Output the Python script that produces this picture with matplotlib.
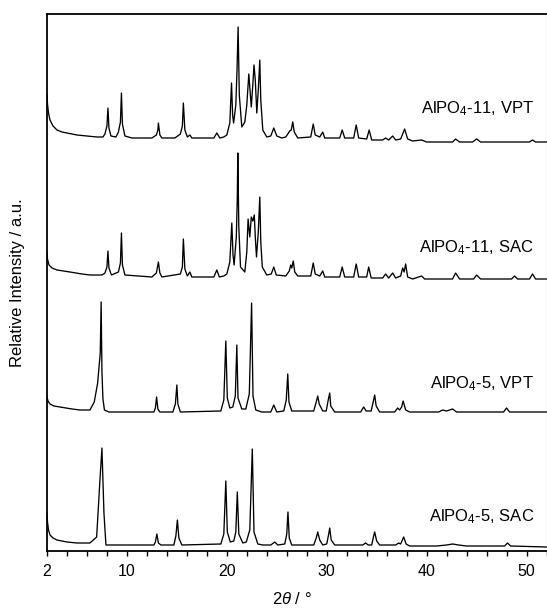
import matplotlib
matplotlib.use("Agg")
import matplotlib.pyplot as plt
import numpy as np

plt.rcParams['font.family'] = ['Liberation Sans', 'DejaVu Sans']
plt.rcParams['mathtext.fontset'] = 'custom'
plt.rcParams['mathtext.rm'] = 'Liberation Sans'
plt.rcParams['mathtext.it'] = 'Liberation Sans:italic'
plt.rcParams['mathtext.bf'] = 'Liberation Sans:bold'

# ---------------- data (2theta in degrees, intensity in a.u.) ----------------
names = ["AlPO$_4$-11, VPT", "AlPO$_4$-11, SAC", "AlPO$_4$-5, VPT", "AlPO$_4$-5, SAC"]

alpo11_vpt = [
    (2.0, 45), (2.05, 36), (2.15, 27), (2.3, 20), (2.6, 14), (3.0, 10), (3.5, 8), (4.0, 7),
    (5.0, 5), (6.0, 4), (7.0, 3), (7.6, 3),
    (7.8, 6), (8.0, 14), (8.1, 32), (8.2, 12), (8.4, 4), (8.9, 3),
    (9.15, 8), (9.35, 18), (9.45, 47), (9.55, 16), (9.8, 4), (10.5, 2), (12.5, 2),
    (12.95, 5), (13.1, 10), (13.15, 17), (13.3, 5), (13.5, 2), (14.8, 2),
    (15.35, 6), (15.55, 14), (15.65, 37), (15.8, 10), (16.05, 3), (16.3, 5), (16.5, 2),
    (18.7, 2), (19.0, 7), (19.3, 2),
    (19.7, 3), (20.0, 5), (20.3, 17), (20.47, 57), (20.58, 25), (20.68, 17), (20.9, 35),
    (21.02, 70), (21.13, 113), (21.25, 45), (21.5, 13), (21.8, 18), (22.0, 35), (22.2, 66),
    (22.45, 33), (22.6, 55), (22.72, 75), (22.85, 60), (23.0, 27), (23.15, 50), (23.3, 80),
    (23.4, 40), (23.6, 10), (24.0, 3),
    (24.4, 4), (24.7, 12), (25.0, 4), (25.5, 2),
    (25.9, 3), (26.3, 9), (26.45, 10), (26.6, 18), (26.75, 8), (27.1, 2),
    (28.4, 3), (28.65, 16), (28.85, 5), (29.3, 3), (29.6, 8), (29.8, 2),
    (31.3, 2), (31.55, 10), (31.8, 2), (32.7, 2), (32.95, 15), (33.2, 2),
    (34.0, 1), (34.25, 10), (34.5, 0), (35.6, 0), (35.9, 2), (36.2, 0), (36.6, 4), (36.9, 0),
    (37.4, 1), (37.6, 6), (37.8, 11), (38.1, 1), (38.6, -1), (39.5, 0), (40.0, -2),
    (42.6, -2), (42.9, 1), (43.3, -2), (44.6, -2), (45.0, 1), (45.4, -2), (50.3, -2),
    (50.6, 0), (50.9, -2), (52.0, -2),
]

alpo11_sac = [
    (2.0, 24), (2.05, 18), (2.2, 12), (2.5, 9), (3.0, 7), (4.3, 5), (5.5, 3), (6.3, 2), (7.5, 2),
    (7.8, 4), (8.0, 10), (8.1, 26), (8.2, 9), (8.45, 2),
    (9.15, 5), (9.35, 14), (9.45, 44), (9.55, 12), (9.8, 2),
    (12.5, 0), (12.95, 4), (13.15, 15), (13.3, 4), (13.5, 0),
    (15.35, 3), (15.55, 10), (15.65, 38), (15.8, 8), (16.05, 1), (16.3, 5), (16.5, 0),
    (18.7, 0), (19.0, 7), (19.25, 0),
    (19.7, 1), (20.0, 3), (20.3, 15), (20.5, 54), (20.62, 22), (20.73, 12), (20.95, 40),
    (21.05, 80), (21.1, 124), (21.2, 50), (21.37, 10), (21.8, 5), (22.0, 25), (22.13, 58),
    (22.3, 40), (22.45, 60), (22.6, 56), (22.75, 62), (22.85, 40), (22.97, 20), (23.15, 45),
    (23.3, 80), (23.4, 35), (23.55, 10), (24.0, 2),
    (24.45, 3), (24.7, 10), (24.95, 2),
    (25.9, 1), (26.25, 6), (26.4, 12), (26.5, 9), (26.65, 16), (26.8, 5), (27.1, 1),
    (28.4, 1), (28.65, 14), (28.85, 3), (29.3, 1), (29.6, 6), (29.8, 0),
    (31.3, 0), (31.55, 10), (31.8, 0), (32.7, 0), (32.95, 13), (33.2, 0),
    (34.0, 0), (34.2, 10), (34.45, -1), (35.6, -1), (35.9, 3), (36.2, -1), (36.6, 4), (36.9, -1),
    (37.4, 1), (37.6, 9), (37.75, 5), (37.9, 13), (38.1, 0), (38.6, -2), (39.5, 1), (39.8, -2),
    (42.6, -2), (42.9, 4), (43.3, -2), (44.7, -2), (45.0, 2), (45.4, -2), (48.5, -2),
    (48.8, 1), (49.1, -2), (50.3, -2), (50.6, 3), (50.9, -2), (52.0, -2),
]

alpo5_vpt = [
    (2.0, 15), (2.1, 11), (2.3, 8), (2.7, 6), (3.3, 5), (4.5, 3), (5.3, 2), (6.3, 2),
    (6.73, 10), (7.07, 29), (7.33, 59), (7.42, 110), (7.5, 40), (7.6, 13), (7.75, 2), (8.2, 0),
    (12.7, 0), (12.85, 4), (12.97, 15), (13.1, 3), (13.3, 0),
    (14.6, 0), (14.85, 8), (15.0, 27), (15.1, 8), (15.35, 0),
    (19.4, 1), (19.7, 12), (19.9, 71), (20.05, 14), (20.3, 4), (20.6, 5), (20.85, 16),
    (21.0, 67), (21.12, 14), (21.5, 3), (21.9, 3), (22.25, 18), (22.48, 109), (22.62, 16),
    (22.9, 2), (23.5, 0),
    (24.4, 0), (24.7, 7), (25.0, 0),
    (25.7, 1), (25.95, 12), (26.1, 38), (26.22, 10), (26.5, 1),
    (28.7, 1), (28.95, 10), (29.1, 16), (29.25, 8), (29.6, 1),
    (29.95, 1), (30.15, 12), (30.3, 19), (30.4, 6), (30.8, 0),
    (33.4, 0), (33.7, 5), (33.95, 1),
    (34.45, 1), (34.65, 10), (34.8, 17), (34.95, 6), (35.3, 0),
    (36.8, 0), (37.1, 4), (37.3, 2), (37.5, 5), (37.65, 11), (37.9, 2), (38.3, 0),
    (41.2, 0), (41.6, 2), (42.0, 1), (42.6, 3), (43.0, 0), (47.7, 0), (48.0, 4), (48.3, 0),
    (52.0, 0),
]

alpo5_sac = [
    (2.0, 33), (2.05, 24), (2.15, 16), (2.3, 11), (2.6, 8), (3.0, 6), (4.0, 4), (5.0, 3),
    (6.3, 3), (6.97, 9), (7.3, 66), (7.5, 98), (7.7, 33), (7.9, 1), (8.5, 1),
    (12.7, 1), (12.85, 4), (13.0, 12), (13.15, 3), (13.4, 1),
    (14.7, 1), (14.9, 10), (15.05, 26), (15.2, 8), (15.5, 1),
    (19.4, 2), (19.7, 12), (19.9, 65), (20.05, 14), (20.35, 4), (20.7, 5), (20.9, 14),
    (21.05, 54), (21.2, 12), (21.6, 3), (21.95, 4), (22.3, 16), (22.55, 97), (22.72, 14),
    (23.1, 2), (23.6, 1),
    (24.4, 1), (24.8, 4), (25.1, 1),
    (25.8, 2), (26.0, 12), (26.12, 34), (26.25, 8), (26.5, 1),
    (28.7, 1), (28.95, 8), (29.1, 14), (29.3, 6), (29.6, 1),
    (30.0, 2), (30.2, 12), (30.3, 18), (30.45, 6), (30.8, 1),
    (33.6, 1), (33.9, 3), (34.15, 1),
    (34.5, 1), (34.7, 10), (34.8, 14), (35.0, 5), (35.3, 1),
    (36.9, 1), (37.2, 3), (37.4, 2), (37.7, 9), (37.95, 2), (38.3, 0),
    (41.0, 0), (42.0, 1), (42.6, 2), (43.2, 1), (44.0, 0), (47.8, 0), (48.1, 3), (48.4, 0),
    (52.0, -1),
]

patterns = [alpo11_vpt, alpo11_sac, alpo5_vpt, alpo5_sac]

x_major = [2, 10, 20, 30, 40, 50]
x_minor = [4, 6, 8, 12, 14, 16, 18, 22, 24, 26, 28, 32, 34, 36, 38, 42, 44, 46, 48, 52]

# ---------------- layout ----------------
offsets = [411, 274, 139, 5]
label_y = [438, 299, 163, 30]

W, H = 547, 608
fig = plt.figure(figsize=(W / 100, H / 100), dpi=100)
ax = fig.add_axes([47 / W, 1 - 551 / H, (546.5 - 47) / W, (551 - 14) / H])

for pat, off, name, ly in zip(patterns, offsets, names, label_y):
    arr = np.array(pat, dtype=float)
    ax.plot(arr[:, 0], arr[:, 1] + off, color='black', lw=0.95, solid_joinstyle='round')
    ax.text(50.75, ly, name, ha='right', va='baseline', fontsize=12)

ax.set_xlim(2, 52)
ax.set_ylim(0, 537)
ax.set_xticks(x_major)
ax.set_xticks(x_minor, minor=True)
ax.set_yticks([])
ax.tick_params(axis='x', which='both', direction='out', length=3.6, width=1,
               labelsize=11.5, pad=5.5)

for s in ['left', 'bottom', 'top']:
    ax.spines[s].set_linewidth(1.3)
    ax.spines[s].set_color('black')
ax.spines['right'].set_linewidth(0.8)
ax.spines['right'].set_color('#777777')

ax.set_xlabel(r"2$\theta$ / °", fontsize=12)
ax.xaxis.set_label_coords(0.49, -0.074, transform=ax.transAxes)
ax.xaxis.label.set_va('top')
ax.set_ylabel("Relative Intensity / a.u.", fontsize=12)
ax.yaxis.set_label_coords(-0.045, 0.5)

fig.savefig("out.png", dpi=100)
